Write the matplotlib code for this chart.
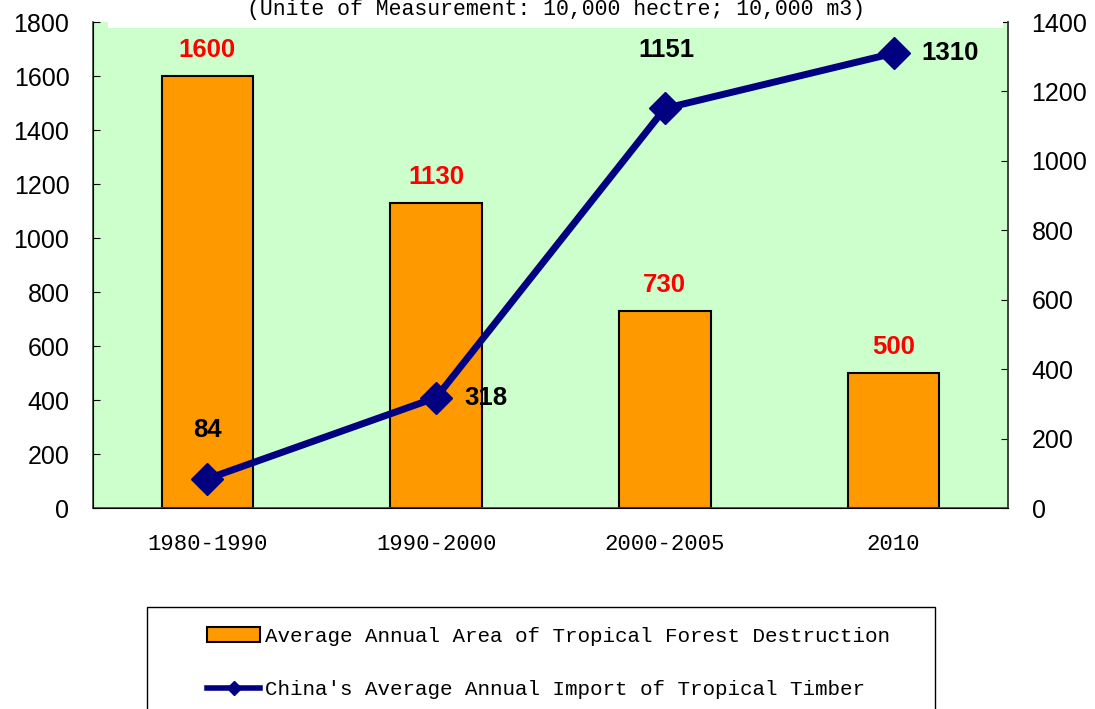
import matplotlib
matplotlib.use('Agg')
import numpy as np
from matplotlib import pyplot as plt
from matplotlib.patches import Rectangle, Patch
from matplotlib.lines import Line2D

# chart data
periods = ['1980-1990', '1990-2000', '2000-2005', '2010']
forest_destruction = [1600, 1130, 730, 500]
timber_import = [84, 318, 1151, 1310]
left_ticks = list(range(0, 1801, 200))
right_ticks = list(range(0, 1401, 200))

title = '(Unite of Measurement: 10,000 hectre; 10,000 m3)'
bar_label = 'Average Annual Area of Tropical Forest Destruction'
line_label = "China's Average Annual Import of Tropical Timber"

bar_color = '#FF9900'
line_color = '#000080'
bg_color = '#CCFFCC'
mono = 'Liberation Mono'
sans = 'Liberation Sans'

fig = plt.figure(figsize=(10.95, 7.09), dpi=100)
ax = fig.add_axes([93 / 1095, 1 - 508 / 709, 915 / 1095, 486 / 709])
ax.set_facecolor(bg_color)
x = np.arange(len(periods))

bars = ax.bar(x, forest_destruction, width=0.4, color=bar_color,
              edgecolor='black', linewidth=1.5, zorder=2)
ax.set_xlim(-0.5, len(periods) - 0.5)
ax.set_ylim(0, 1800)
ax.set_yticks(left_ticks)
ax.set_xticks(x)
ax.set_xticklabels(periods, fontfamily=mono, fontsize=16)
ax.tick_params(axis='x', length=0, pad=19)
ax.tick_params(axis='y', direction='in', length=5, labelsize=18, pad=17)
for lab in ax.get_yticklabels():
    lab.set_fontfamily(sans)
for s in ['left', 'bottom', 'right']:
    ax.spines[s].set_color('#404040')
    ax.spines[s].set_linewidth(1.2)
ax.spines['top'].set_visible(False)

# red labels above bars
for xi, v in zip(x, forest_destruction):
    ax.annotate(str(v), (xi, v), xytext=(0, 26), textcoords='offset pixels',
                ha='center', va='center', color='red', fontsize=18.5,
                fontweight='bold', fontfamily=sans)

ax2 = ax.twinx()
ax2.set_ylim(0, 1400)
ax2.set_yticks(right_ticks)
ax2.tick_params(axis='y', direction='in', length=5, labelsize=18, pad=17)
for lab in ax2.get_yticklabels():
    lab.set_fontfamily(sans)
ax2.spines['top'].set_visible(False)
ax2.spines['right'].set_color('#404040')
ax2.spines['right'].set_linewidth(1.2)
ax2.plot(x, timber_import, color=line_color, linewidth=5, marker='D',
         markersize=16, zorder=3)

# black labels for the line (above or to the right)
offsets = [((0, 49), 'center'), ((28, 0), 'left'), ((2, 58), 'center'), ((28, 0), 'left')]
for xi, v, (off, ha) in zip(x, timber_import, offsets):
    ax2.annotate(str(v), (xi, v), xytext=off, textcoords='offset pixels',
                 ha=ha, va='center', color='black', fontsize=18.5,
                 fontweight='bold', fontfamily=sans)

# white strip behind the title
fig.patches.append(Rectangle((108 / 1095, 1 - 28 / 709), 895 / 1095, 28 / 709,
                             transform=fig.transFigure, facecolor='white',
                             edgecolor='none', zorder=5))
fig.text(556 / 1095, 1 - 9 / 709, title, ha='center', va='center',
         fontfamily=mono, fontsize=15.5, zorder=6)

# legend box
fig.patches.append(Rectangle((147 / 1095, -0.01), 788 / 1095, (709 - 607) / 709 + 0.01,
                             transform=fig.transFigure, facecolor='white',
                             edgecolor='black', linewidth=1, zorder=1))
handles = [Patch(facecolor=bar_color, edgecolor='black', linewidth=1.5),
           Line2D([], [], color=line_color, linewidth=4, marker='D', markersize=7)]
fig.legend(handles, [bar_label, line_label], loc='upper left',
           bbox_to_anchor=(207 / 1095, 1 - 627 / 709), frameon=False,
           prop={'family': mono, 'size': 15}, handlelength=2.55,
           handletextpad=0.25, labelspacing=1.65, borderpad=0, borderaxespad=0)

plt.savefig('out.png', dpi=100)
